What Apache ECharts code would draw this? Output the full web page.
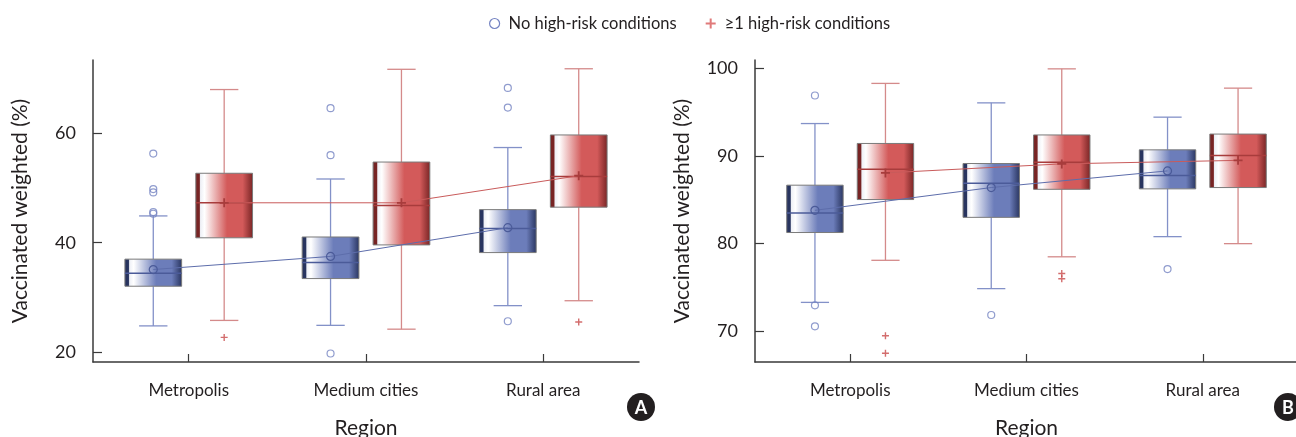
<!DOCTYPE html>
<html><head><meta charset="utf-8">
<script src="https://cdn.jsdelivr.net/npm/echarts@6/dist/echarts.min.js"></script>
<style>html,body{margin:0;padding:0;background:#fff}#c{width:1296px;height:437px}</style>
</head><body><div id="c"></div>
<script>
// ---------------- DATA ----------------
const categories = ['Metropolis', 'Medium cities', 'Rural area'];
const groupNames = ['No high-risk conditions', '\u22651 high-risk conditions'];
const yTicksA = [20, 40, 60];
const yTicksB = [70, 80, 90, 100];

// Panel A: [min, Q1, median, Q3, max] per category
const aNoRiskBox = [
  [24.8, 32.05, 34.4, 37.0, 44.9],
  [24.9, 33.45, 36.4, 41.05, 51.65],
  [28.5, 38.2, 42.6, 46.05, 57.4]
];
const aNoRiskMean = [35.1, 37.5, 42.75];
const aNoRiskOutliers = [[0, 56.3], [0, 49.8], [0, 49.2], [0, 45.6], [0, 45.3], [1, 64.6], [1, 56.0], [1, 19.75], [2, 68.3], [2, 64.7], [2, 25.65]];
const aRiskBox = [
  [25.8, 40.9, 47.3, 52.7, 68.0],
  [24.2, 39.6, 46.8, 54.75, 71.7],
  [29.4, 46.5, 52.1, 59.7, 71.8]
];
const aRiskMean = [47.3, 47.3, 52.25];
const aRiskOutliers = [[0, 22.7], [2, 25.5]];

// Panel B
const bNoRiskBox = [
  [73.3, 81.27, 83.5, 86.67, 93.7],
  [74.87, 83.0, 86.9, 89.14, 96.06],
  [80.8, 86.25, 87.77, 90.7, 94.43]
];
const bNoRiskMean = [83.8, 86.4, 88.3];
const bNoRiskOutliers = [[0, 96.9], [0, 72.97], [0, 70.57], [1, 71.86], [2, 77.1]];
const bRiskBox = [
  [78.1, 85.03, 88.5, 91.43, 98.28],
  [78.5, 86.2, 89.3, 92.4, 99.94],
  [80.0, 86.4, 90.06, 92.5, 97.74]
];
const bRiskMean = [88.07, 89.1, 89.5];
const bRiskOutliers = [[0, 69.5], [0, 67.5], [1, 76.6], [1, 76.0]];

// ---------------- LAYOUT / STYLE ----------------
const OFF = 0.2, BOX_W = 0.32;
const FONT = 'Lato';
const TXT = '#231f20';
const PLUS = 'path://M4,0H6V4H10V6H6V10H4V6H0V4H4Z';
const C = {
  blue: {main: '#6c7dba', dark: '#28345f', whisk: '#8391c8', med: '#4b5b99', mean: '#5d6dab', out: '#7483c2'},
  red: {main: '#d35a5a', dark: '#772424', whisk: '#d48a8a', med: '#a83c3c', mean: '#c95b5b', out: '#c84848'}
};

function makeRender(col) {
  return function (params, api) {
    const x = api.value(0);
    const p = [1, 2, 3, 4, 5].map(i => api.coord([x, api.value(i)]));
    const cx = p[0][0];
    const w = api.size([BOX_W, 0])[0];
    const cap = w * 0.25;
    const grad = new echarts.graphic.LinearGradient(0, 0, 1, 0, [
      {offset: 0, color: col.dark}, {offset: 0.07, color: col.dark},
      {offset: 0.09, color: '#eef0f6'}, {offset: 0.16, color: '#ffffff'},
      {offset: 0.55, color: col.main}, {offset: 0.82, color: col.main},
      {offset: 1, color: col.dark}
    ]);
    const ls = {stroke: col.whisk, lineWidth: 1.3};
    return {type: 'group', children: [
      {type: 'line', shape: {x1: cx, y1: p[4][1], x2: cx, y2: p[3][1]}, style: ls},
      {type: 'line', shape: {x1: cx, y1: p[1][1], x2: cx, y2: p[0][1]}, style: ls},
      {type: 'line', shape: {x1: cx - cap, y1: p[4][1], x2: cx + cap, y2: p[4][1]}, style: ls},
      {type: 'line', shape: {x1: cx - cap, y1: p[0][1], x2: cx + cap, y2: p[0][1]}, style: ls},
      {type: 'rect', shape: {x: cx - w / 2, y: p[3][1], width: w, height: p[1][1] - p[3][1]},
        style: {fill: grad, stroke: '#7a7a7a', lineWidth: 1}},
      {type: 'line', shape: {x1: cx - w / 2, y1: p[2][1], x2: cx + w / 2, y2: p[2][1]},
        style: {stroke: col.med, lineWidth: 1.5}}
    ]};
  };
}

function panelSeries(ai, noBox, noMean, noOut, rBox, rMean, rOut) {
  const s = [];
  const groups = [
    {name: groupNames[0], box: noBox, mean: noMean, out: noOut, off: -OFF, col: C.blue, circle: true},
    {name: groupNames[1], box: rBox, mean: rMean, out: rOut, off: OFF, col: C.red, circle: false}
  ];
  groups.forEach(g => {
    s.push({
      type: 'custom', name: g.name, xAxisIndex: ai, yAxisIndex: ai, silent: true, clip: false,
      renderItem: makeRender(g.col), encode: {x: 0, y: [1, 2, 3, 4, 5]},
      data: g.box.map((b, i) => [i + 1 + g.off].concat(b)), z: 2
    });
  });
  groups.forEach(g => {
    s.push({
      type: 'line', name: g.name, xAxisIndex: ai, yAxisIndex: ai, silent: true,
      data: g.mean.map((m, i) => [i + 1 + g.off, m]),
      symbol: g.circle ? 'circle' : PLUS, symbolSize: g.circle ? 8 : 9,
      lineStyle: {color: g.col.mean, width: 1},
      itemStyle: g.circle ? {color: 'rgba(0,0,0,0)', borderColor: g.col.med, borderWidth: 1.2}
                          : {color: g.col.med, borderWidth: 0},
      z: 4, animation: false
    });
    s.push({
      type: 'scatter', name: g.name, xAxisIndex: ai, yAxisIndex: ai, silent: true,
      data: g.out.map(o => [o[0] + 1 + g.off, o[1]]),
      symbol: g.circle ? 'circle' : PLUS, symbolSize: 7,
      itemStyle: g.circle ? {color: 'rgba(0,0,0,0)', borderColor: g.col.out, borderWidth: 1.2}
                          : {color: g.col.out, borderWidth: 0},
      z: 5, clip: false
    });
  });
  return s;
}

function xAxis(ai) {
  return {
    type: 'value', gridIndex: ai, min: 0.46, max: 3.54,
    name: 'Region', nameLocation: 'middle', nameGap: 56,
    nameTextStyle: {fontFamily: FONT, fontSize: 21, color: TXT},
    axisLine: {lineStyle: {color: '#3a3a3a', width: 1.5}},
    axisTick: {inside: true, length: 8, customValues: [1, 2, 3], lineStyle: {color: '#3a3a3a', width: 1.2}},
    axisLabel: {customValues: [1, 2, 3], formatter: v => categories[Math.round(v) - 1] || '',
      margin: 20, fontFamily: FONT, fontSize: 17, color: TXT},
    splitLine: {show: false}
  };
}
function yAxis(ai, min, max, ticks) {
  return {
    type: 'value', gridIndex: ai, min: min, max: max,
    name: 'Vaccinated weighted (%)', nameLocation: 'middle', nameGap: 62, nameRotate: 90,
    nameTextStyle: {fontFamily: FONT, fontSize: 21, color: TXT},
    axisLine: {show: true, lineStyle: {color: '#3a3a3a', width: 1.5}},
    axisTick: {show: true, inside: true, length: 9, customValues: ticks, lineStyle: {color: '#3a3a3a', width: 1.2}},
    axisLabel: {customValues: ticks, margin: 17, fontFamily: FONT, fontSize: 18, color: TXT},
    splitLine: {show: false}
  };
}

const chart = echarts.init(document.getElementById('c'), null, {renderer: 'canvas'});
chart.setOption({
  animation: false,
  backgroundColor: '#fff',
  grid: [
    {left: 93, top: 60, width: 546, height: 302, containLabel: false, outerBoundsMode: 'none'},
    {left: 755, top: 60, width: 543, height: 302, containLabel: false, outerBoundsMode: 'none'}
  ],
  xAxis: [xAxis(0), xAxis(1)],
  yAxis: [yAxis(0, 18.2, 73.4, yTicksA), yAxis(1, 66.5, 100.95, yTicksB)],
  legend: {
    left: 484, top: 10, itemWidth: 10, itemHeight: 10, itemGap: 29,
    textStyle: {fontFamily: FONT, fontSize: 16.5, color: TXT, padding: [0, 0, 0, 4]},
    selectedMode: false,
    data: [
      {name: groupNames[0], icon: 'circle', itemStyle: {color: 'rgba(0,0,0,0)', borderColor: C.blue.out, borderWidth: 1.2}},
      {name: groupNames[1], icon: PLUS, itemStyle: {color: '#e07a7a', borderWidth: 0}}
    ]
  },
  graphic: [
    {type: 'circle', shape: {cx: 641, cy: 407, r: 14}, style: {fill: TXT}},
    {type: 'text', x: 641, y: 408, style: {text: 'A', fill: '#fff', font: 'bold 18px ' + FONT, align: 'center', verticalAlign: 'middle'}},
    {type: 'circle', shape: {cx: 1288, cy: 407, r: 14}, style: {fill: TXT}},
    {type: 'text', x: 1288, y: 408, style: {text: 'B', fill: '#fff', font: 'bold 18px ' + FONT, align: 'center', verticalAlign: 'middle'}}
  ],
  series: [].concat(
    panelSeries(0, aNoRiskBox, aNoRiskMean, aNoRiskOutliers, aRiskBox, aRiskMean, aRiskOutliers),
    panelSeries(1, bNoRiskBox, bNoRiskMean, bNoRiskOutliers, bRiskBox, bRiskMean, bRiskOutliers)
  )
});
</script>
</body></html>
